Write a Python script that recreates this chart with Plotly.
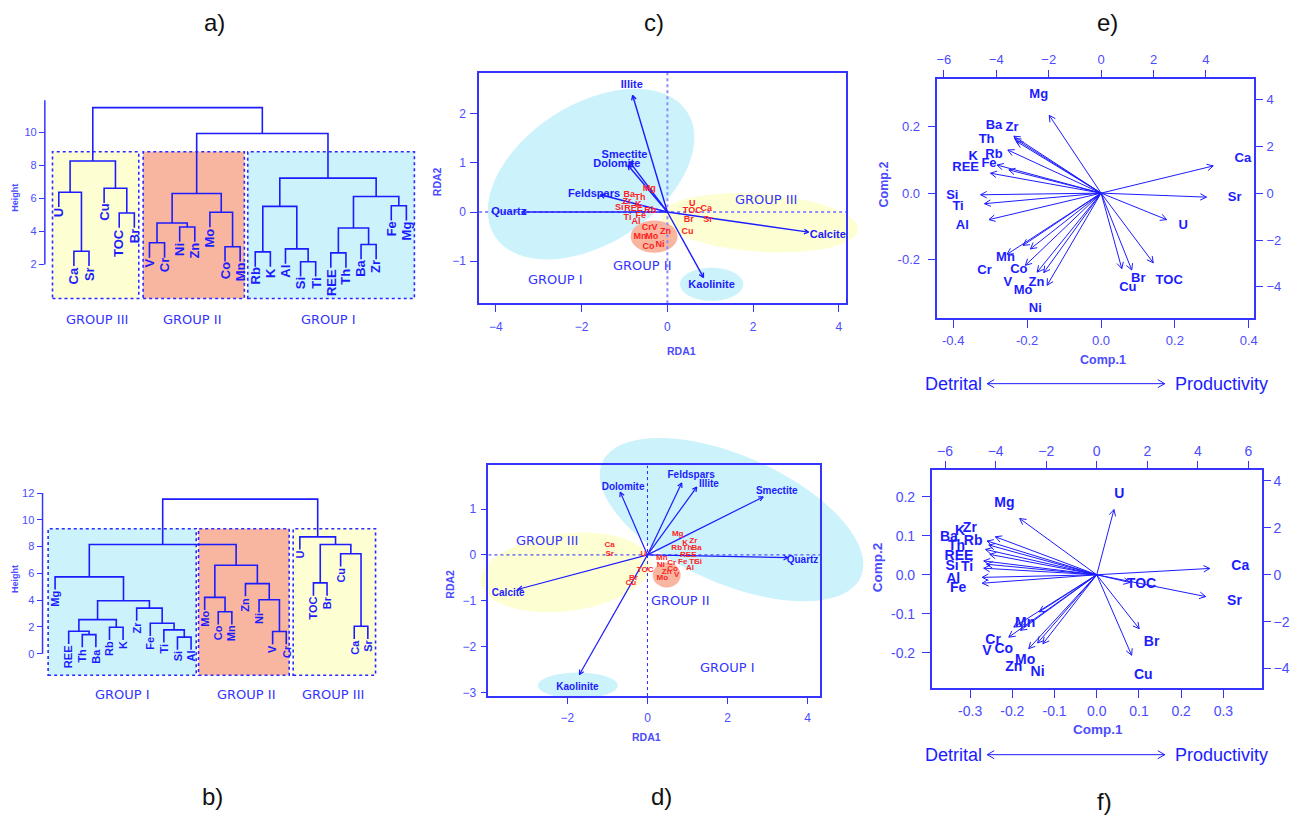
import math
import plotly.graph_objects as go

W, H = 1293, 823
FONT = 'Liberation Sans, Arial, sans-serif'
GFONT = 'DejaVu Sans, Verdana, sans-serif'
BLUE = '#1c1cff'
TICKC = '#4b4bff'
LINEC = '#3535ff'
GROUPC = '#3535ff'
RED = '#ff1f1f'
CYAN = '#ccf2fc'
YELLOW = '#fefed3'
SALMON = '#f8b6a0'

# ---------------- data ----------------
# a) dendrogram (leaf order and merges: child, child, height)
A_LEAVES = ['U', 'Ca', 'Sr', 'Cu', 'TOC', 'Br', 'V', 'Cr', 'Ni', 'Zn', 'Mo', 'Co', 'Mn',
            'Rb', 'K', 'Al', 'Si', 'Ti', 'REE', 'Th', 'Ba', 'Zr', 'Fe', 'Mg']
A_MERGES = [('Ca', 'Sr', 2.80), ('U', 0, 6.38), ('TOC', 'Br', 5.12), ('Cu', 2, 6.62), (1, 3, 8.27),
            ('V', 'Cr', 3.31), ('Ni', 'Zn', 4.27), (5, 6, 4.51), ('Co', 'Mn', 3.07), ('Mo', 8, 5.16),
            (7, 9, 6.30), ('Rb', 'K', 2.76), ('Si', 'Ti', 2.16), ('Al', 12, 2.94), (11, 13, 5.52),
            ('REE', 'Th', 2.70), ('Ba', 'Zr', 3.21), (15, 16, 4.21), ('Fe', 'Mg', 5.56), (17, 18, 6.12),
            (14, 19, 7.23), (10, 20, 9.94), (4, 21, 11.51)]
A_TICKS = [2, 4, 6, 8, 10]

# b) dendrogram
B_LEAVES = ['Mg', 'REE', 'Th', 'Ba', 'Rb', 'K', 'Zr', 'Fe', 'Ti', 'Si', 'Al', 'Mo', 'Co', 'Mn',
            'Zn', 'Ni', 'V', 'Cr', 'U', 'TOC', 'Br', 'Cu', 'Ca', 'Sr']
B_MERGES = [('Th', 'Ba', 1.43), ('REE', 0, 1.68), ('Rb', 'K', 1.98), (1, 2, 2.55), ('Si', 'Al', 1.24),
            ('Ti', 4, 1.78), ('Fe', 5, 2.28), ('Zr', 6, 3.41), (3, 7, 3.96), ('Mg', 8, 5.74),
            ('Co', 'Mn', 3.14), ('Mo', 10, 4.21), ('V', 'Cr', 1.66), ('Ni', 12, 4.03), ('Zn', 13, 5.24),
            (11, 14, 6.61), (9, 15, 8.16), ('TOC', 'Br', 5.29), ('Ca', 'Sr', 2.05), ('Cu', 18, 7.47),
            (17, 19, 8.16), ('U', 20, 8.73), (16, 21, 11.55)]
B_TICKS = [0, 2, 4, 6, 8, 10, 12]

# c) RDA
C_ARROW_NAMES = ['Illite', 'Smectite', 'Dolomite', 'Feldspars', 'Quartz', 'Calcite', 'Kaolinite']
C_ARROW_X = [-0.81, -0.88, -0.92, -1.56, -3.39, 3.29, 0.84]
C_ARROW_Y = [2.37, 1.02, 0.95, 0.35, 0.0, -0.41, -1.33]
C_LABEL_X = [-0.83, -1.0, -1.18, -1.71, -3.70, 3.74, 1.03]
C_LABEL_Y = [2.57, 1.16, 0.98, 0.37, 0.0, -0.47, -1.49]
C_SP = ['Mg', 'Ba', 'Th', 'Zr', 'K', 'Si', 'REE', 'Rb', 'Ti', 'Fe', 'Al', 'Cr', 'V', 'Zn', 'Mn', 'Mo',
        'Ni', 'Co', 'U', 'TOC', 'Ca', 'Br', 'Sr', 'Cu']
C_SP_X = [-0.425, -0.89, -0.64, -0.94, -0.68, -1.12, -0.79, -0.40, -0.93, -0.62, -0.73, -0.48, -0.30,
          -0.046, -0.64, -0.365, -0.17, -0.44, 0.58, 0.58, 0.905, 0.50, 0.945, 0.47]
C_SP_Y = [0.47, 0.36, 0.28, 0.20, 0.15, 0.08, 0.07, 0.026, -0.11, -0.07, -0.20, -0.32, -0.32,
          -0.405, -0.505, -0.505, -0.66, -0.715, 0.16, 0.03, 0.07, -0.155, -0.155, -0.40]
C_XTICKS = [-4, -2, 0, 2, 4]
C_YTICKS = [-1, 0, 1, 2]

# d) RDA
D_ARROW_NAMES = ['Dolomite', 'Feldspars', 'Illite', 'Smectite', 'Quartz', 'Calcite', 'Kaolinite']
D_ARROW_X = [-0.68, 0.855, 1.23, 2.89, 3.51, -3.23, -1.70]
D_ARROW_Y = [1.37, 1.57, 1.48, 1.265, -0.06, -0.75, -2.61]
D_LABEL_X = [-0.61, 1.09, 1.535, 3.23, 3.875, -3.48, -1.75]
D_LABEL_Y = [1.47, 1.74, 1.53, 1.39, -0.117, -0.84, -2.89]
D_SP = ['Mg', 'K', 'Zr', 'Rb', 'Th', 'Ba', 'REE', 'Ca', 'Sr', 'U', 'Mn', 'Ni', 'Cr', 'Fe', 'Ti', 'Si',
        'Al', 'Co', 'TOC', 'Zn', 'V', 'Mo', 'Br', 'Cu']
D_SP_X = [0.755, 0.94, 1.145, 0.73, 1.0, 1.23, 1.02, -0.945, -0.945, -0.10, 0.36, 0.33, 0.605, 0.88,
          1.13, 1.27, 1.06, 0.63, -0.06, 0.48, 0.73, 0.37, -0.35, -0.415]
D_SP_Y = [0.46, 0.27, 0.30, 0.16, 0.14, 0.14, -0.01, 0.22, 0.01, 0.03, -0.07, -0.22, -0.17, -0.15,
          -0.15, -0.15, -0.28, -0.31, -0.32, -0.38, -0.43, -0.51, -0.51, -0.62]
D_XTICKS = [-2, 0, 2, 4]
D_YTICKS = [-3, -2, -1, 0, 1]

# e) PCA biplot (loadings on top/right scales)
E_NAMES = ['Mg', 'Zr', 'Ba', 'Th', 'Rb', 'K', 'Fe', 'REE', 'Si', 'Ti', 'Al', 'Mn', 'Cr', 'Co', 'V',
           'Mo', 'Zn', 'Ni', 'Cu', 'Br', 'TOC', 'U', 'Sr', 'Ca']
E_ARROW_X = [-1.98, -3.33, -3.30, -3.22, -3.56, -3.52, -3.97, -4.22, -4.60, -4.45, -4.28, -2.98, -3.59,
             -2.70, -2.89, -2.44, -2.19, -2.06, 0.79, 1.17, 1.99, 2.50, 4.02, 4.28]
E_ARROW_Y = [3.32, 2.43, 2.33, 2.20, 1.84, 0.99, 1.20, 0.85, -0.07, -0.45, -1.13, -2.23, -2.61,
             -2.38, -3.08, -3.37, -3.39, -3.93, -3.22, -3.28, -2.97, -1.13, -0.17, 1.16]
E_LABEL_X = [-2.38, -3.40, -4.09, -4.37, -4.09, -4.88, -4.28, -5.17, -5.68, -5.46, -5.30, -3.65, -4.45,
             -3.14, -3.56, -2.98, -2.47, -2.51, 1.02, 1.42, 2.60, 3.13, 5.10, 5.41]
E_LABEL_Y = [4.21, 2.80, 2.87, 2.29, 1.65, 1.55, 1.24, 1.10, -0.10, -0.57, -1.39, -2.76, -3.32,
             -3.28, -3.82, -4.17, -3.82, -4.92, -4.02, -3.65, -3.75, -1.39, -0.19, 1.45]
E_XTICKS = [-0.4, -0.2, 0.0, 0.2, 0.4]
E_YTICKS = [-0.2, 0.0, 0.2]
E_TOPTICKS = [-6, -4, -2, 0, 2, 4]
E_RIGHTTICKS = [-4, -2, 0, 2, 4]

# f) PCA biplot
F_NAMES = ['U', 'Mg', 'Zr', 'K', 'Ba', 'Rb', 'Th', 'REE', 'Ti', 'Si', 'Al', 'Fe', 'Mn', 'Cr', 'V', 'Co',
           'Mo', 'Zn', 'Ni', 'Ca', 'TOC', 'Sr', 'Br', 'Cu']
F_ARROW_X = [0.68, -3.05, -4.01, -4.34, -4.27, -4.40, -4.23, -4.47, -4.36, -4.47, -4.53, -4.53, -3.02,
             -3.48, -3.28, -2.27, -2.69, -2.34, -2.13, 4.47, 1.31, 4.31, 1.68, 1.38]
F_ARROW_Y = [2.78, 2.40, 1.62, 1.44, 1.27, 1.08, 0.87, 0.59, 0.45, 0.28, -0.11, -0.36, -2.37, -2.66,
             -2.23, -1.58, -3.15, -2.91, -2.94, 0.27, -0.33, -0.93, -2.30, -3.43]
F_LABEL_X = [0.89, -3.65, -5.02, -5.41, -5.85, -4.89, -5.55, -5.45, -5.13, -5.72, -5.68, -5.48, -2.83,
             -4.10, -4.34, -3.68, -2.83, -3.28, -2.34, 5.68, 1.77, 5.45, 2.17, 1.84]
F_LABEL_Y = [3.42, 3.03, 1.97, 1.83, 1.61, 1.40, 1.19, 0.80, 0.31, 0.34, -0.19, -0.57, -2.09, -2.80,
             -3.29, -3.19, -3.64, -3.96, -4.15, 0.34, -0.42, -1.14, -2.90, -4.28]
F_XTICKS = [-0.3, -0.2, -0.1, 0.0, 0.1, 0.2, 0.3]
F_YTICKS = [-0.2, -0.1, 0.0, 0.1, 0.2]
F_TOPTICKS = [-6, -4, -2, 0, 2, 4, 6]
F_RIGHTTICKS = [-4, -2, 0, 2, 4]


# ---------------- geometry helpers ----------------
def P(X, Y):
    return X / W, 1 - Y / H


class Pan:
    def __init__(s, xpx, ypx, xr, yr):
        s.x0, s.x1 = xpx
        s.yt, s.yb = ypx
        s.xr, s.yr = xr, yr

    def topx(s, x, y):
        X = s.x0 + (x - s.xr[0]) / (s.xr[1] - s.xr[0]) * (s.x1 - s.x0)
        Y = s.yb - (y - s.yr[0]) / (s.yr[1] - s.yr[0]) * (s.yb - s.yt)
        return X, Y

    def todata(s, X, Y):
        x = s.xr[0] + (X - s.x0) / (s.x1 - s.x0) * (s.xr[1] - s.xr[0])
        y = s.yr[0] + (s.yb - Y) / (s.yb - s.yt) * (s.yr[1] - s.yr[0])
        return x, y

    def xdom(s):
        return [s.x0 / W, s.x1 / W]

    def ydom(s):
        return [1 - s.yb / H, 1 - s.yt / H]


PA = Pan((44, 420), (99.1, 300.2), (0.077, 24.86), (-0.12, 12.0))
PB = Pan((41.7, 380), (489.7, 680.3), (0.077, 24.86), (-1.75, 12.40))
PC = Pan((480, 848.3), (72.3, 304), (-4.39, 4.165), (-1.854, 2.83))
PD = Pan((489.3, 822.3), (467.3, 699.3), (-3.975, 4.314), (-3.08, 1.952))
PE = Pan((940, 1257.7), (78, 319), (-0.443, 0.4137), (-0.377, 0.346))
PEL = Pan((940, 1257.7), (78, 319), (-6.25, 5.83), (-5.33, 4.89))
PF = Pan((934.3, 1265.7), (472.3, 691), (-0.391, 0.391), (-0.2897, 0.2675))
PFL = Pan((934.3, 1265.7), (472.3, 691), (-6.53, 6.53), (-4.82, 4.45))

fig = go.Figure()
shapes = []
ann = []


def ellipse(pan, cx, cy, a, b, th, color):
    X0, Y0 = pan.topx(cx, cy)
    t = math.radians(th)
    pts = []
    n = 90
    for k in range(n):
        u = 2 * math.pi * k / n
        X = X0 + a * math.cos(u) * math.cos(t) - b * math.sin(u) * math.sin(t)
        Y = Y0 - (a * math.cos(u) * math.sin(t) + b * math.sin(u) * math.cos(t))
        pts.append(P(X, Y))
    path = 'M ' + ' L '.join(f'{x:.5f},{y:.5f}' for x, y in pts) + ' Z'
    shapes.append(dict(type='path', xref='paper', yref='paper', path=path, fillcolor=color,
                       line=dict(width=0), layer='below'))


def rect_px(x0, y0, x1, y1, color):
    a = P(x0, y1)
    b = P(x1, y0)
    shapes.append(dict(type='rect', xref='paper', yref='paper', x0=a[0], y0=a[1], x1=b[0], y1=b[1],
                       fillcolor=color, line=dict(color='#2a2aff', width=1.6, dash='dot'), layer='below'))


def line_px(pts, color=LINEC, width=1.3):
    pp = [P(X, Y) for X, Y in pts]
    path = 'M ' + ' L '.join(f'{x:.5f},{y:.5f}' for x, y in pp)
    shapes.append(dict(type='path', xref='paper', yref='paper', path=path,
                       line=dict(color=color, width=width)))


def text_px(X, Y, txt, size, color=BLUE, family=FONT, angle=0, bold=False):
    x, y = P(X, Y)
    ann.append(dict(x=x, y=y, xref='paper', yref='paper', text=(f'<b>{txt}</b>' if bold else txt),
                    showarrow=False, textangle=angle, xanchor='center', yanchor='middle',
                    font=dict(family=family, size=size, color=color)))


# ---------------- dendrograms ----------------
def dendro(leaves, merges, hang):
    pos = {l: i + 1 for i, l in enumerate(leaves)}
    nx, nh = [], []
    xs, ys = [], []
    ends = {}
    for a, b, h in merges:
        pts = []
        for c in (a, b):
            if isinstance(c, str):
                x, y0 = pos[c], h - hang
                ends[c] = y0
            else:
                x, y0 = nx[c], nh[c]
            pts.append((x, y0))
        xs += [pts[0][0], pts[0][0], pts[1][0], pts[1][0], None]
        ys += [pts[0][1], h, h, pts[1][1], None]
        nx.append((pts[0][0] + pts[1][0]) / 2)
        nh.append(h)
    return xs, ys, pos, ends


def add_dendro(leaves, merges, hang, xa, ya, fs):
    xs, ys, pos, ends = dendro(leaves, merges, hang)
    fig.add_trace(go.Scatter(x=xs, y=ys, mode='lines', line=dict(color=BLUE, width=1.6),
                             xaxis=xa, yaxis=ya, hoverinfo='skip'))
    for l in leaves:
        ann.append(dict(x=pos[l], y=ends[l], xref=xa, yref=ya, text=f'<b>{l}</b>', textangle=-90,
                        xanchor='center', yanchor='top', showarrow=False, yshift=1,
                        font=dict(family=FONT, size=fs, color=BLUE)))


# group boxes a
rect_px(51.7, 151.7, 138.3, 299.3, YELLOW)
rect_px(142.7, 151.7, 244.3, 299.3, SALMON)
rect_px(247.7, 151.7, 415, 299.3, CYAN)
# group boxes b
rect_px(47.3, 531, 196, 678.3, CYAN)
rect_px(198.3, 531, 289.3, 678.3, SALMON)
rect_px(293.3, 531, 376, 678.3, YELLOW)

add_dendro(A_LEAVES, A_MERGES, 0.9, 'x', 'y', 13)
add_dendro(B_LEAVES, B_MERGES, 0.95, 'x2', 'y2', 11)

# dendrogram axis lines
line_px([PA.topx(PA.xr[0], 2), PA.topx(PA.xr[0], 11.95)], color=LINEC, width=1.5)
line_px([PB.topx(PB.xr[0], 0), PB.topx(PB.xr[0], 12)], color=LINEC, width=1.5)

for txt, X in [('GROUP III', 96), ('GROUP II', 192.7), ('GROUP I', 328.3)]:
    text_px(X, 320, txt, 13, color=GROUPC, family=GFONT)
for txt, X in [('GROUP I', 121.7), ('GROUP II', 246.7), ('GROUP III', 333.3)]:
    text_px(X, 697.3, txt, 13, color=GROUPC, family=GFONT)
text_px(14, 198, 'Height', 9, angle=-90, bold=True, color=TICKC)
text_px(14, 581.7, 'Height', 9, angle=-90, bold=True, color=TICKC)


# ---------------- biplot helpers ----------------
def arrows(pan, txs, tys, hl, xa, ya, width, ang=28):
    xs, ys = [], []
    X0, Y0 = pan.topx(0, 0)
    for tx, ty in zip(txs, tys):
        X1, Y1 = pan.topx(tx, ty)
        dx, dy = X1 - X0, Y1 - Y0
        L = math.hypot(dx, dy)
        ux, uy = dx / L, dy / L
        xs += [0, tx, None]
        ys += [0, ty, None]
        hp = []
        for s in (1, -1):
            a = math.radians(ang * s)
            rx = -ux * math.cos(a) + uy * math.sin(a)
            ry = -ux * math.sin(a) - uy * math.cos(a)
            hp.append(pan.todata(X1 + hl * rx, Y1 + hl * ry))
        xs += [hp[0][0], tx, hp[1][0], None]
        ys += [hp[0][1], ty, hp[1][1], None]
    fig.add_trace(go.Scatter(x=xs, y=ys, mode='lines', line=dict(color=BLUE, width=width),
                             xaxis=xa, yaxis=ya, hoverinfo='skip'))


def labels(xs, ys, names, size, color, xa, ya):
    fig.add_trace(go.Scatter(x=xs, y=ys, mode='text', text=names, cliponaxis=False,
                             textfont=dict(family=FONT, size=size, color=color, weight='bold'),
                             xaxis=xa, yaxis=ya, hoverinfo='skip'))


# ---------------- c) ----------------
ellipse(PC, -1.78, 0.77, 115, 70, 33, CYAN)
ellipse(PC, 2.15, -0.22, 99, 29, -4, YELLOW)
ellipse(PC, 1.03, -1.47, 31.7, 16.7, 0, CYAN)
ellipse(PC, -0.31, -0.50, 23.5, 16.2, 0, SALMON)
fig.add_trace(go.Scatter(x=[PC.xr[0], PC.xr[1], None, 0, 0], y=[0, 0, None, PC.yr[0], PC.yr[1]],
                         mode='lines', line=dict(color='#8c8cff', width=2, dash='dot'),
                         xaxis='x3', yaxis='y3', hoverinfo='skip'))
arrows(PC, C_ARROW_X, C_ARROW_Y, 5, 'x3', 'y3', 1.4)
labels(C_SP_X, C_SP_Y, C_SP, 9, RED, 'x3', 'y3')
labels(C_LABEL_X, C_LABEL_Y, C_ARROW_NAMES, 11, BLUE, 'x3', 'y3')
text_px(768, 199.3, 'GROUP III', 13, color=GROUPC, family=GFONT)
text_px(644, 265.7, 'GROUP II', 13, color=GROUPC, family=GFONT)
text_px(556.7, 280.7, 'GROUP I', 13, color=GROUPC, family=GFONT)
text_px(683, 352, 'RDA1', 10.5, color=TICKC, bold=True)
text_px(438, 182, 'RDA2', 10.5, color=TICKC, bold=True, angle=-90)

# ---------------- d) ----------------
ellipse(PD, 2.10, 0.77, 142, 64, -24, CYAN)
ellipse(PD, -2.05, -0.38, 85.5, 39, 7, YELLOW)
ellipse(PD, -1.74, -2.85, 40, 13, 0, CYAN)
ellipse(PD, 0.48, -0.44, 14, 12.5, 0, SALMON)
fig.add_trace(go.Scatter(x=[PD.xr[0], PD.xr[1], None, 0, 0], y=[0, 0, None, PD.yr[0], PD.yr[1]],
                         mode='lines', line=dict(color='#2a2aff', width=1, dash='dot'),
                         xaxis='x4', yaxis='y4', hoverinfo='skip'))
arrows(PD, D_ARROW_X, D_ARROW_Y, 5, 'x4', 'y4', 1.2)
labels(D_SP_X, D_SP_Y, D_SP, 8, RED, 'x4', 'y4')
labels(D_LABEL_X, D_LABEL_Y, D_ARROW_NAMES, 10, BLUE, 'x4', 'y4')
text_px(548.3, 542.7, 'GROUP III', 13, color=GROUPC, family=GFONT)
text_px(682.3, 602.7, 'GROUP II', 13, color=GROUPC, family=GFONT)
text_px(729.3, 670.7, 'GROUP I', 13, color=GROUPC, family=GFONT)
text_px(648, 740, 'RDA1', 10.5, color=TICKC, bold=True)
text_px(451, 587, 'RDA2', 10.5, color=TICKC, bold=True, angle=-90)

# ---------------- e) ----------------
# empty trace so the Comp.1 / Comp.2 frame is drawn
fig.add_trace(go.Scatter(x=[None], y=[None], mode='lines', xaxis='x5', yaxis='y5', hoverinfo='skip'))
arrows(PEL, E_ARROW_X, E_ARROW_Y, 7, 'x6', 'y6', 1.0)
labels(E_LABEL_X, E_LABEL_Y, E_NAMES, 13, BLUE, 'x6', 'y6')
text_px(1106.7, 361, 'Comp.1', 12.5, color=TICKC, bold=True)
text_px(886, 185, 'Comp.2', 12.5, color=TICKC, bold=True, angle=-90)

# ---------------- f) ----------------
fig.add_trace(go.Scatter(x=[None], y=[None], mode='lines', xaxis='x7', yaxis='y7', hoverinfo='skip'))
arrows(PFL, F_ARROW_X, F_ARROW_Y, 7, 'x8', 'y8', 1.0)
labels(F_LABEL_X, F_LABEL_Y, F_NAMES, 14, BLUE, 'x8', 'y8')
text_px(1101, 732.7, 'Comp.1', 13.5, color=TICKC, bold=True)
text_px(880, 570, 'Comp.2', 13.5, color=TICKC, bold=True, angle=-90)

# Detrital <-> Productivity
for Y in (385, 758.3):
    line_px([(990, Y), (1168.3, Y)], color=BLUE, width=1)
    line_px([(997, Y - 4), (990, Y), (997, Y + 4)], color=BLUE, width=1)
    line_px([(1161.3, Y - 4), (1168.3, Y), (1161.3, Y + 4)], color=BLUE, width=1)
    text_px(956, Y, 'Detrital', 18, color=BLUE)
    text_px(1225, Y, 'Productivity', 18, color=BLUE)

# panel titles
for t, X, Y in [('a)', 214, 22), ('c)', 656, 22), ('e)', 1111, 22),
                ('b)', 212, 800), ('d)', 663, 800), ('f)', 1108, 805)]:
    text_px(X, Y, t, 24, color='#111111')

# ---------------- axes ----------------
TF = lambda s: dict(family=FONT, size=s, color=TICKC)
common = dict(showgrid=False, zeroline=False, ticks='outside', tickcolor=LINEC, tickwidth=1.2)


def boxax(pan, tickv, size, ticklen, standoff, letter):
    return dict(common, domain=(pan.xdom() if letter == 'x' else pan.ydom()),
                range=(pan.xr if letter == 'x' else pan.yr), tickvals=tickv, ticklen=ticklen,
                tickfont=TF(size), showline=True, mirror=True, linecolor=LINEC, linewidth=1.5,
                ticklabelstandoff=standoff)


def sideax(pan, tickv, size, ticklen, standoff, letter, side):
    return dict(common, domain=(pan.xdom() if letter == 'x' else pan.ydom()),
                range=(pan.xr if letter == 'x' else pan.yr), tickvals=tickv, ticklen=ticklen,
                tickfont=TF(size), showline=False, side=side, ticklabelstandoff=standoff)


def fmt(vals, dec):
    return [f'{v:.{dec}f}' for v in vals]


layout = dict(
    width=W, height=H, margin=dict(l=0, r=0, t=0, b=0), showlegend=False,
    paper_bgcolor='white', plot_bgcolor='rgba(0,0,0,0)',
    xaxis=dict(domain=PA.xdom(), range=PA.xr, visible=False, anchor='y'),
    yaxis=dict(common, domain=PA.ydom(), range=PA.yr, anchor='x', tickvals=A_TICKS, ticklen=5,
               tickfont=TF(11), showline=False),
    xaxis2=dict(domain=PB.xdom(), range=PB.xr, visible=False, anchor='y2'),
    yaxis2=dict(common, domain=PB.ydom(), range=PB.yr, anchor='x2', tickvals=B_TICKS, ticklen=5,
                tickfont=TF(11), showline=False),
    xaxis3=dict(boxax(PC, C_XTICKS, 12, 7, 5, 'x'), anchor='y3'),
    yaxis3=dict(boxax(PC, C_YTICKS, 12, 7, 2, 'y'), anchor='x3'),
    xaxis4=dict(boxax(PD, D_XTICKS, 12, 6, 4, 'x'), anchor='y4'),
    yaxis4=dict(boxax(PD, D_YTICKS, 12, 6, 2, 'y'), anchor='x4'),
    xaxis5=dict(boxax(PE, E_XTICKS, 13, 8, 2, 'x'), anchor='y5', ticktext=fmt(E_XTICKS, 1)),
    yaxis5=dict(boxax(PE, E_YTICKS, 13, 8, 5, 'y'), anchor='x5', ticktext=fmt(E_YTICKS, 1)),
    xaxis6=dict(sideax(PEL, E_TOPTICKS, 13, 8, 0, 'x', 'top'), anchor='y6'),
    yaxis6=dict(sideax(PEL, E_RIGHTTICKS, 13, 8, 1, 'y', 'right'), anchor='x6'),
    xaxis7=dict(boxax(PF, F_XTICKS, 14, 8, 2, 'x'), anchor='y7', ticktext=fmt(F_XTICKS, 1)),
    yaxis7=dict(boxax(PF, F_YTICKS, 14, 8, 4, 'y'), anchor='x7', ticktext=fmt(F_YTICKS, 1)),
    xaxis8=dict(sideax(PFL, F_TOPTICKS, 14, 8, 0, 'x', 'top'), anchor='y8'),
    yaxis8=dict(sideax(PFL, F_RIGHTTICKS, 14, 8, 0, 'y', 'right'), anchor='x8'),
    shapes=shapes, annotations=ann,
)
fig.update_layout(**layout)
fig.write_html('out.html')
